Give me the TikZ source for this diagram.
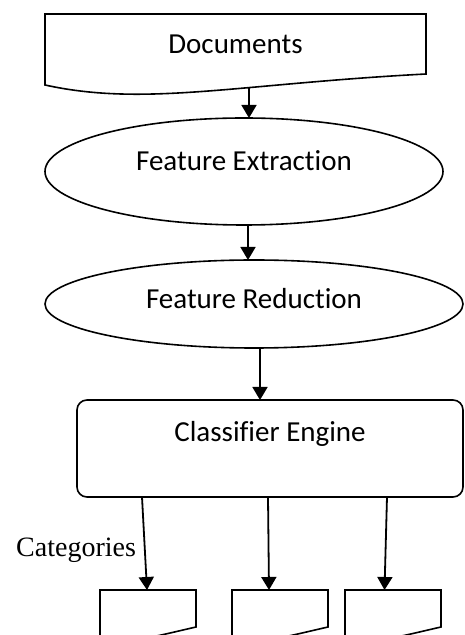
\documentclass[tikz,border=0pt]{standalone}
\usepackage{fontspec}
\setmainfont{Carlito}[Ligatures=NoCommon]
\newfontfamily\catfont{Liberation Serif}
\usetikzlibrary{arrows.meta,positioning,shapes.geometric}

\begin{document}
\begin{tikzpicture}[
			x=1pt, y=1pt,
			docnode/.style={
				rectangle,
				draw=none,
				outer sep=0pt,
				minimum width=381pt,
				minimum height=60pt,
				font=\fontsize{29}{35}\selectfont
			},
			ellnode/.style={
				ellipse,
				draw=black,
				line width=1.6pt,
				outer sep=0pt,
				text height=20pt,
				font=\fontsize{29}{35}\selectfont
			},
			engnode/.style={
				rectangle,
				rounded corners=10pt,
				draw=black,
				line width=1.6pt,
				outer sep=0pt,
				minimum width=386pt,
				minimum height=97pt,
				text height=20pt,
				font=\fontsize{29}{35}\selectfont
			},
			catnode/.style={
				rectangle,
				draw=none,
				outer sep=0pt,
				minimum width=96pt,
				minimum height=37pt
			},
			outline/.style={
				line width=1.6pt,
				draw=black
			},
			arrow/.style={
				-{Triangle[length=13pt,width=15pt]},
				line width=1.8pt,
				draw=black
			}
			]
			\clip (0,0) rectangle (464,635);
			\useasboundingbox (0,0) rectangle (464,635);

			\node[docnode] (docs) at (235.5,591) {Documents};
			\node[ellnode, minimum width=398pt, minimum height=107pt, text depth=21pt,
				below=44pt of docs, xshift=8.5pt] (extract) {Feature Extraction\hspace{30pt}};
			\node[ellnode, minimum width=418pt, minimum height=88pt, text depth=10pt,
				below=35pt of extract, xshift=10pt] (reduce) {Feature Reduction\hspace{44pt}};
			\node[engnode, text depth=33pt, below=52pt of reduce, xshift=16pt] (engine) {Classifier Engine\hspace{66pt}};
			\node[catnode, below=93pt of engine, xshift=-122pt] (cat1) {};
			\node[catnode, right=36pt of cat1] (cat2) {};
			\node[catnode, right=17pt of cat2] (cat3) {};

			% document outlines with wavy bottom
			\draw[outline] (docs.north west) -- ([yshift=-11pt]docs.south west)
			.. controls +(100,-22) and +(-190,-10) .. (docs.south east) -- (docs.north east) -- cycle;
			\draw[outline] (cat1.north west) -- ([yshift=-10pt]cat1.south west)
			.. controls +(26.5,-8) and +(-44,-10) .. (cat1.south east) -- (cat1.north east) -- cycle;
			\draw[outline] (cat2.north west) -- ([yshift=-10pt]cat2.south west)
			.. controls +(26.5,-8) and +(-44,-10) .. (cat2.south east) -- (cat2.north east) -- cycle;
			\draw[outline] (cat3.north west) -- ([yshift=-10pt]cat3.south west)
			.. controls +(26.5,-8) and +(-44,-10) .. (cat3.south east) -- (cat3.north east) -- cycle;

			\coordinate (docsout) at ([xshift=13.5pt,yshift=-13pt]docs.south);
			\draw[arrow] (docsout) -- (docsout |- extract.north);
			\draw[arrow] ([xshift=4pt]extract.south) -- ([xshift=4pt]extract.south |- reduce.north);
			\draw[arrow] ([xshift=6pt]reduce.south) -- ([xshift=6pt]reduce.south |- engine.north);
			\draw[arrow] ([xshift=65pt]engine.south west) --
			node[pos=0.57, left=8pt, inner sep=0pt, font=\catfont\fontsize{28}{34}\selectfont] {Categories} ([xshift=-1pt]cat1.north);
			\draw[arrow] ([xshift=-2pt]engine.south) -- ([xshift=-11pt]cat2.north);
			\draw[arrow] ([xshift=-76pt]engine.south east) -- ([xshift=-8.5pt]cat3.north);
		\end{tikzpicture}
\end{document}
